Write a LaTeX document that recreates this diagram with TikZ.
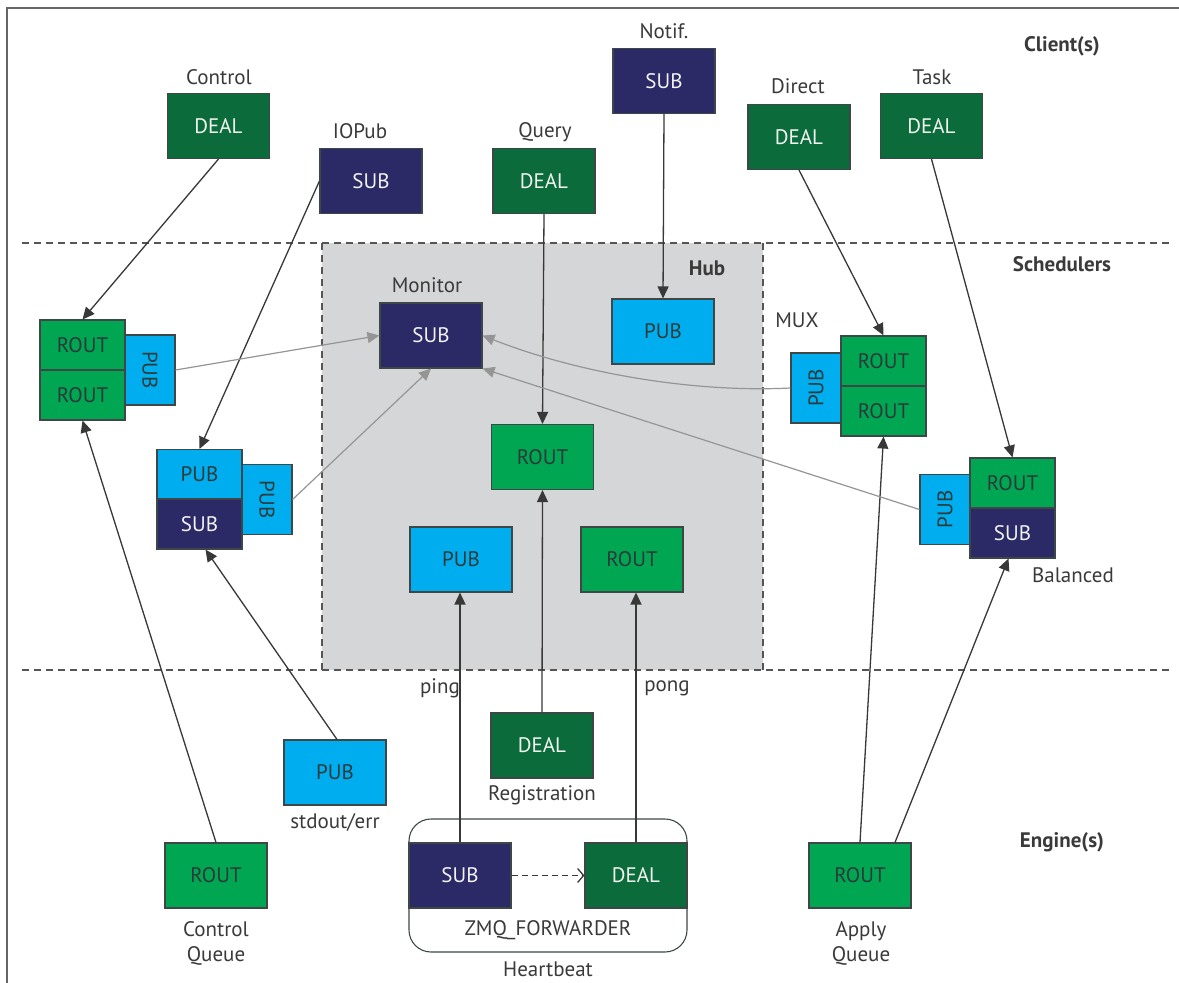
\documentclass[tikz,border=0pt]{standalone}
\usepackage{fontspec}
\setmainfont{PT Sans}
\usetikzlibrary{arrows.meta}

\definecolor{dealgreen}{HTML}{0B6B3A}
\definecolor{routgreen}{HTML}{00A651}
\definecolor{pubblue}{HTML}{00AEEF}
\definecolor{subnavy}{HTML}{2B2966}
\definecolor{hubfill}{HTML}{D5D6D8}
\definecolor{edgegray}{HTML}{3E4747}
\definecolor{darktext}{HTML}{2C3A3A}
\definecolor{softwhite}{HTML}{F2F4F2}
\definecolor{labelgray}{HTML}{3A3A3A}
\definecolor{linkgray}{HTML}{383838}
\definecolor{mongray}{HTML}{959595}
\definecolor{dashgray}{HTML}{555555}
\definecolor{framegray}{HTML}{666666}

\begin{document}
\begin{tikzpicture}[x=1pt,y=-1pt,
  sock/.style={draw=edgegray, line width=1.1pt, inner sep=0pt,
    font=\fontsize{21}{25}\selectfont},
  big/.style={sock, minimum width=102pt, minimum height=65pt},
  half/.style={sock, minimum width=85pt, minimum height=50pt},
  side/.style={sock, minimum width=50pt, minimum height=70pt},
  deal/.style={fill=dealgreen, text=softwhite},
  rout/.style={fill=routgreen, text=darktext},
  pub/.style={fill=pubblue, text=darktext},
  sub/.style={fill=subnavy, text=softwhite},
  lbl/.style={text=labelgray, inner sep=0pt, align=center,
    font=\fontsize{21}{25}\selectfont},
  tier/.style={text=labelgray, inner sep=0pt,
    font=\bfseries\fontsize{21}{25}\selectfont},
  link/.style={draw=linkgray, line width=1.3pt,
    -{Triangle[length=12pt,width=11pt]}},
  mon/.style={draw=mongray, line width=1.2pt,
    -{Triangle[length=12pt,width=11pt]}},
  layer/.style={draw=dashgray, line width=1.3pt, dash pattern=on 7pt off 5pt}
]
\useasboundingbox (0,0) rectangle (1179,983);
\fill[white] (0,0) rectangle (1179,983);
\draw[framegray, line width=1.4pt] (7,8) rectangle (1200,1005);

% Hub area
\fill[hubfill] (322,243) rectangle (763,670);
\draw[layer] (322,243) -- (322,670);
\draw[layer] (763,243) -- (763,670);

% layer separators
\draw[layer] (22,243) -- (1172,243);
\draw[layer] (22,670) -- (1172,670);

% tier titles
\node[tier] (tClient) at (1062,46) {Client(s)};
\node[tier] (tSched) at (1062,264) {Schedulers};
\node[tier] (tEngine) at (1062,842) {Engine(s)};
\node[tier] (tHub) at (707,268) {Hub};

% client sockets
\node[big,deal] (ctlDeal) at (218.5,126) {DEAL};
\node[big,sub] (iopubSub) at (371,181) {SUB};
\node[big,deal] (queryDeal) at (544,181) {DEAL};
\node[big,sub] (notifSub) at (664,81) {SUB};
\node[big,deal] (directDeal) at (799,137) {DEAL};
\node[big,deal] (taskDeal) at (931.5,126) {DEAL};

\node[lbl] (ctlLbl) at (219,77) {Control};
\node[lbl] (iopubLbl) at (360,131) {IOPub};
\node[lbl] (queryLbl) at (545,132) {Query};
\node[lbl] (notifLbl) at (664,31) {Notif.};
\node[lbl] (directLbl) at (798,86) {Direct};
\node[lbl] (taskLbl) at (932,77) {Task};

% control scheduler
\node[side,pub] (ctlPub) at (150,370) {\rotatebox{-90}{PUB}};
\node[half,rout] (ctlRoutA) at (82.5,345) {ROUT};
\node[half,rout] (ctlRoutB) at (82.5,395) {ROUT};

% iopub scheduler
\node[side,pub] (ioPubSide) at (267,499.5) {\rotatebox{-90}{PUB}};
\node[half,pub] (ioPubA) at (199.5,474.5) {PUB};
\node[half,sub] (ioSubB) at (199.5,524) {SUB};

% hub sockets
\node[big,sub] (monSub) at (431,335.5) {SUB};
\node[lbl] (monLbl) at (427,285) {Monitor};
\node[big,pub] (hubPub) at (663,331.5) {PUB};
\node[big,rout] (hubRout) at (542.5,457) {ROUT};
\node[big,pub] (hubPing) at (461,559.5) {PUB};
\node[big,rout] (hubPong) at (632,559.5) {ROUT};

% mux scheduler
\node[side,pub] (muxPub) at (816,388) {\rotatebox{90}{PUB}};
\node[half,rout] (muxRoutA) at (883.5,361) {ROUT};
\node[half,rout] (muxRoutB) at (883.5,411) {ROUT};
\node[lbl] (muxLbl) at (797,320) {MUX};

% balanced scheduler
\node[side,pub] (balPub) at (945,509.5) {\rotatebox{90}{PUB}};
\node[half,rout] (balRout) at (1012.5,483) {ROUT};
\node[half,sub] (balSub) at (1012.5,533) {SUB};
\node[lbl] (balLbl) at (1073,575) {Balanced};

% engine sockets
\node[big,deal] (regDeal) at (542,745.5) {DEAL};
\node[lbl] (regLbl) at (542,795) {Registration};
\node[big,pub] (stdPub) at (335,772.5) {PUB};
\node[lbl] (stdLbl) at (335,822) {stdout/err};
\node[big,rout] (cqRout) at (216,875.5) {ROUT};
\node[lbl] (cqLbl) at (216,943) {Control\\Queue};
\node[big,rout] (aqRout) at (860,875.5) {ROUT};
\node[lbl] (aqLbl) at (861,943) {Apply\\Queue};

% heartbeat forwarder
\node[draw=edgegray, line width=1.1pt, rounded corners=22pt,
  minimum width=278pt, minimum height=133pt, inner sep=0pt]
  (hbBox) at (548,885.5) {};
\node[big,sub] (hbSub) at (460,875.5) {SUB};
\node[big,deal] (hbDeal) at (636,875.5) {DEAL};
\node[lbl] (hbFwd) at (548,930) {ZMQ\_FORWARDER};
\node[lbl] (hbLbl) at (548,969) {Heartbeat};
\draw[draw=linkgray, line width=1.3pt, dash pattern=on 6pt off 4pt,
  -{Straight Barb[length=6pt,width=14pt]}] (hbSub.east) -- (hbDeal.west);

\node[lbl] (pingLbl) at (440,688) {ping};
\node[lbl] (pongLbl) at (667,688) {pong};

% client <-> scheduler links
\draw[link] (ctlDeal.south) -- (ctlRoutA.north);
\draw[link] (iopubSub.west) -- (ioPubA.north);
\draw[link] (queryDeal.south) -- (hubRout.north);
\draw[link] (notifSub.south) -- (hubPub.north);
\draw[link] (directDeal.south) -- (muxRoutA.north);
\draw[link] (taskDeal.south) -- (balRout.north);

% engine -> scheduler links
\draw[link] (cqRout.north) -- (ctlRoutB.south);
\draw[link] ([xshift=2pt]stdPub.north) -- ([xshift=6pt]ioSubB.south);
\draw[link] (hbSub.north) -- (hbSub.north |- hubPing.south);
\draw[link] (hbDeal.north) -- (hbDeal.north |- hubPong.south);
\draw[link] (regDeal.north) -- (hubRout.south);
\draw[link] (aqRout.north) -- (muxRoutB.south);
\draw[link] ([xshift=35pt]aqRout.north) -- ([xshift=-4pt]balSub.south);

% monitor feeds
\draw[mon] (ctlPub.east) -- (monSub.west);
\draw[mon] (ioPubSide.east) -- (monSub.south);
\draw[mon] (muxPub.west) .. controls (690,393) and (575,372) .. (monSub.east);
\draw[mon] (balPub.west) -- (monSub.south east);
\end{tikzpicture}
\end{document}
